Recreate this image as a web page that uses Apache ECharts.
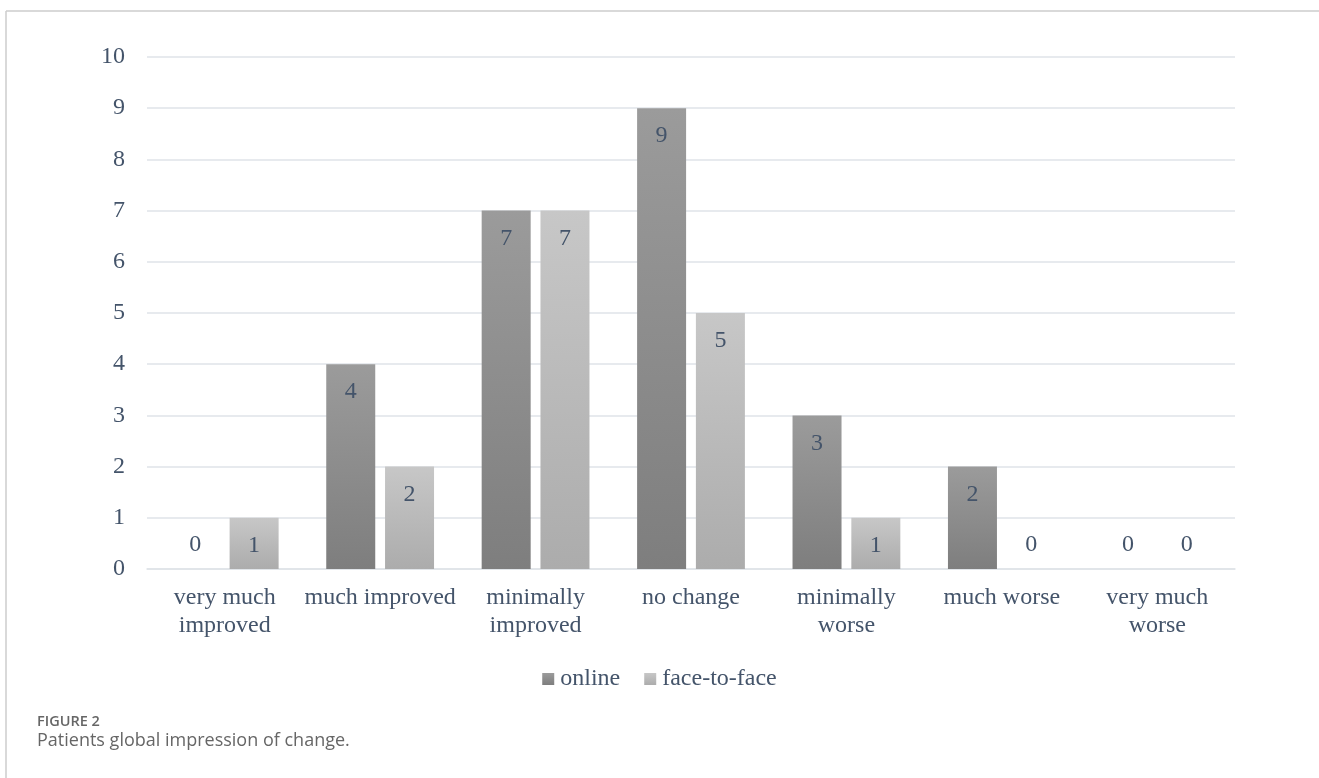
<!DOCTYPE html>
<html>
<head>
<meta charset="utf-8">
<script src="https://cdn.jsdelivr.net/npm/echarts@6/dist/echarts.min.js"></script>
<style>
  html, body { margin: 0; padding: 0; background: #fff; }
  #chart { width: 1319px; height: 778px; }
</style>
</head>
<body>
<div id="chart"></div>
<script>
// Response categories (tick labels, wrapped as shown on the axis)
const categories = [
  'very much\nimproved',
  'much improved',
  'minimally\nimproved',
  'no change',
  'minimally\nworse',
  'much worse',
  'very much\nworse'
];
const seriesNames = ['online', 'face-to-face'];
const onlineCounts = [0, 4, 7, 9, 3, 2, 0];
const faceCounts = [1, 2, 7, 5, 1, 0, 0];

const textColor = '#44546a';
const serif = '"Liberation Serif", "Times New Roman", serif';
const fs = 24;

function grad(top, bottom) {
  return new echarts.graphic.LinearGradient(0, 0, 0, 1, [
    { offset: 0, color: top },
    { offset: 1, color: bottom }
  ]);
}

// Value labels sit inside the bar top; zero bars get their label just above the axis
function withLabels(values) {
  return values.map(v => v === 0
    ? { value: v, label: { position: 'top', distance: 12 } }
    : { value: v });
}

const labelStyle = {
  show: true,
  position: 'insideTop',
  distance: 16,
  color: textColor,
  fontFamily: serif,
  fontSize: fs
};

const chart = echarts.init(document.getElementById('chart'), null, { renderer: 'canvas' });
chart.setOption({
  backgroundColor: '#fff',
  animation: false,
  grid: { left: 147, right: 84, top: 57, bottom: 209 },
  legend: {
    data: seriesNames,
    top: 662,
    left: 'center',
    itemWidth: 12,
    itemHeight: 12,
    itemGap: 24,
    icon: 'rect',
    textStyle: { color: textColor, fontFamily: serif, fontSize: fs, padding: [0, 0, 0, 1] }
  },
  xAxis: {
    type: 'category',
    data: categories,
    axisLine: { lineStyle: { color: '#dfe3e8', width: 1.5 } },
    axisTick: { show: false },
    axisLabel: {
      color: textColor,
      fontFamily: serif,
      fontSize: fs,
      lineHeight: 28,
      margin: 15,
      interval: 0
    }
  },
  yAxis: {
    type: 'value',
    min: 0,
    max: 10,
    interval: 1,
    axisLine: { show: false },
    axisTick: { show: false },
    splitLine: { lineStyle: { color: '#dfe3e8', width: 1.5 } },
    axisLabel: {
      color: textColor,
      fontFamily: serif,
      fontSize: fs,
      margin: 22
    }
  },
  series: [
    {
      name: seriesNames[0],
      type: 'bar',
      data: withLabels(onlineCounts),
      barWidth: 49,
      barGap: '20%',
      itemStyle: { color: grad('#9b9b9b', '#7e7e7e') },
      label: labelStyle
    },
    {
      name: seriesNames[1],
      type: 'bar',
      data: withLabels(faceCounts),
      barWidth: 49,
      barGap: '20%',
      itemStyle: { color: grad('#c7c7c7', '#acacac') },
      label: labelStyle
    }
  ],
  graphic: [
    { type: 'line', shape: { x1: 6, y1: 11, x2: 1319, y2: 11 }, style: { stroke: '#cccccc', lineWidth: 1.5 } },
    { type: 'line', shape: { x1: 6, y1: 11, x2: 6, y2: 778 }, style: { stroke: '#cccccc', lineWidth: 1.5 } },
    {
      type: 'text', left: 37, top: 714,
      style: { text: 'FIGURE 2', fill: '#666666', font: '600 14.5px "Open Sans", sans-serif' }
    },
    {
      type: 'text', left: 37, top: 732,
      style: { text: 'Patients global impression of change.', fill: '#666666', font: '18px "Open Sans", sans-serif' }
    }
  ]
});
</script>
</body>
</html>
